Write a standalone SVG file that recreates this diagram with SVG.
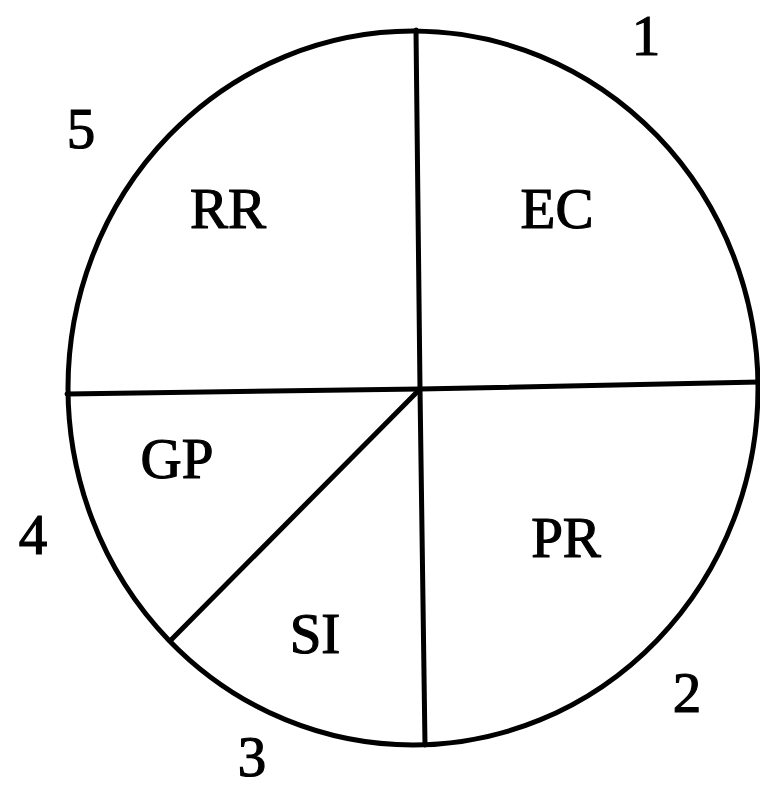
<svg xmlns="http://www.w3.org/2000/svg" width="760" height="789" viewBox="0 0 760 789">
<style>
.s{fill:none;stroke:#000;stroke-width:5;stroke-linecap:round}
text{font-family:"Liberation Serif","DejaVu Serif",serif;font-size:57px;fill:#000;stroke:#000;stroke-width:1.2;text-anchor:middle}
</style>
<rect width="760" height="789" fill="#fff"/>
<g id="circle"><ellipse class="s" cx="413" cy="388" rx="345" ry="357"/></g>
<g id="connectors">
<path class="s" d="M416 30 L420 389 L425 745"/>
<path class="s" d="M67 394 L420 389 L760 382"/>
<path class="s" d="M420 389 L171 640"/>
</g>
<g id="sector-EC"><text x="557" y="228">EC</text></g>
<g id="sector-RR"><text x="228" y="228">RR</text></g>
<g id="sector-GP"><text x="177" y="478">GP</text></g>
<g id="sector-SI"><text x="315" y="653">SI</text></g>
<g id="sector-PR"><text x="566" y="557">PR</text></g>
<g id="label-1"><text x="646" y="55">1</text></g>
<g id="label-2"><text x="687" y="712">2</text></g>
<g id="label-3"><text x="252" y="776">3</text></g>
<g id="label-4"><text x="33" y="554">4</text></g>
<g id="label-5"><text x="81" y="148">5</text></g>
</svg>
